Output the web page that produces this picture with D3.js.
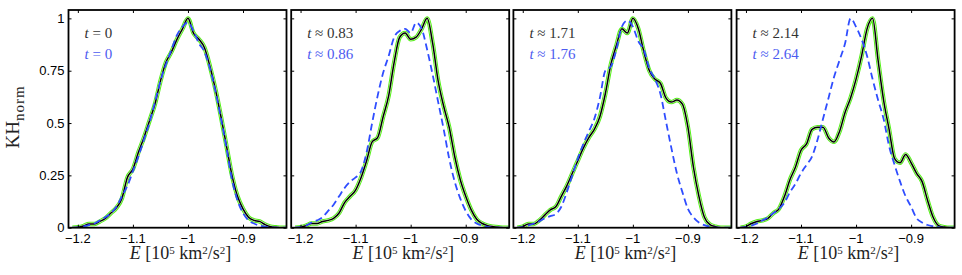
<!DOCTYPE html>
<html>
<head>
<meta charset="utf-8">
<script src="https://cdn.jsdelivr.net/npm/d3@7"></script>
<style>
  body { margin: 0; background: #fff; }
  svg { display: block; }
</style>
</head>
<body>
<div id="chart"></div>
<script>
// energy grid (10^5 km^2/s^2), common to every curve
var energyGrid = [-1.21, -1.20, -1.19, -1.18, -1.17, -1.16, -1.15, -1.14, -1.13, -1.12,
                  -1.11, -1.10, -1.09, -1.08, -1.07, -1.06, -1.05, -1.04, -1.03, -1.02,
                  -1.01, -1.00, -0.99, -0.98, -0.97, -0.96, -0.95, -0.94, -0.93, -0.92,
                  -0.91, -0.90, -0.89, -0.88, -0.87, -0.86, -0.85, -0.84, -0.83, -0.82];

// black solid curves (with green band)
var khSim1 = [0, 0.002, 0.008, 0.018, 0.018, 0.03, 0.045, 0.07, 0.095, 0.14,
              0.24, 0.28, 0.36, 0.43, 0.51, 0.59, 0.70, 0.79, 0.84, 0.90,
              0.95, 1.0, 0.93, 0.90, 0.86, 0.77, 0.66, 0.53, 0.39, 0.25,
              0.15, 0.09, 0.05, 0.035, 0.03, 0.015, 0.005, 0.002, 0, 0];
var khSim2 = [0, 0.002, 0.01, 0.02, 0.02, 0.03, 0.035, 0.045, 0.07, 0.12,
              0.15, 0.18, 0.24, 0.32, 0.41, 0.43, 0.53, 0.63, 0.79, 0.91,
              0.93, 0.90, 0.91, 0.95, 1.0, 0.88, 0.70, 0.58, 0.48, 0.34,
              0.23, 0.15, 0.085, 0.04, 0.02, 0.01, 0.005, 0.002, 0, 0];
var khSim3 = [0, 0.005, 0.018, 0.018, 0.035, 0.06, 0.085, 0.10, 0.15, 0.20,
              0.26, 0.32, 0.38, 0.43, 0.47, 0.53, 0.64, 0.78, 0.87, 0.95,
              0.93, 1.0, 0.95, 0.84, 0.75, 0.71, 0.69, 0.62, 0.60, 0.61,
              0.59, 0.48, 0.29, 0.15, 0.05, 0.015, 0.005, 0, 0, 0];
var khSim4 = [0, 0.005, 0.02, 0.03, 0.035, 0.045, 0.07, 0.09, 0.15, 0.23,
              0.29, 0.37, 0.40, 0.47, 0.48, 0.48, 0.43, 0.41, 0.46, 0.55,
              0.62, 0.71, 0.82, 0.95, 1.0, 0.80, 0.61, 0.47, 0.33, 0.31,
              0.35, 0.31, 0.26, 0.22, 0.13, 0.05, 0.01, 0.003, 0, 0];

// blue dashed curves
var khObs1 = [0, 0.002, 0.006, 0.012, 0.02, 0.035, 0.05, 0.07, 0.10, 0.15,
              0.20, 0.27, 0.34, 0.42, 0.50, 0.60, 0.70, 0.78, 0.85, 0.92,
              0.96, 0.98, 0.94, 0.88, 0.84, 0.76, 0.65, 0.52, 0.38, 0.23,
              0.13, 0.07, 0.035, 0.02, 0.01, 0.005, 0.002, 0, 0, 0];
var khObs2 = [0, 0.003, 0.01, 0.025, 0.035, 0.05, 0.08, 0.11, 0.15, 0.19,
              0.22, 0.24, 0.27, 0.36, 0.50, 0.63, 0.74, 0.82, 0.91, 0.94,
              0.95, 0.93, 0.98, 0.95, 0.85, 0.73, 0.60, 0.47, 0.33, 0.22,
              0.14, 0.08, 0.04, 0.02, 0.01, 0.004, 0, 0, 0, 0];
var khObs3 = [0, 0.003, 0.01, 0.02, 0.03, 0.045, 0.055, 0.065, 0.10, 0.17,
              0.25, 0.33, 0.40, 0.46, 0.52, 0.62, 0.75, 0.77, 0.85, 0.96,
              0.99, 0.96, 0.89, 0.85, 0.76, 0.71, 0.64, 0.51, 0.38, 0.26,
              0.17, 0.09, 0.05, 0.025, 0.012, 0.005, 0, 0, 0, 0];
var khObs4 = [0, 0.003, 0.01, 0.02, 0.035, 0.05, 0.07, 0.09, 0.12, 0.17,
              0.21, 0.26, 0.30, 0.34, 0.42, 0.52, 0.62, 0.72, 0.80, 0.88,
              1.0, 0.96, 0.90, 0.82, 0.71, 0.61, 0.52, 0.39, 0.30, 0.22,
              0.15, 0.10, 0.045, 0.025, 0.013, 0.007, 0.003, 0, 0, 0];

var simTimes = ["= 0", "\u2248 0.83", "\u2248 1.71", "\u2248 2.14"];
var obsTimes = ["= 0", "\u2248 0.86", "\u2248 1.76", "\u2248 2.64"];

var xTicks = [-1.2, -1.1, -1.0, -0.9];
var xTickLabels = ["\u22121.2", "\u22121.1", "\u22121", "\u22120.9"];
var yTicks = [0, 0.25, 0.5, 0.75, 1];
var yTickLabels = ["0", "0.25", "0.5", "0.75", "1"];

var simSeries = [khSim1, khSim2, khSim3, khSim4];
var obsSeries = [khObs1, khObs2, khObs3, khObs4];

//************************************************************
// layout
//************************************************************
var W = 962, H = 275;
var panelLeft = [68.5, 291.2, 513.4, 736.6];
var panelW = 218;
var plotTop = 10, plotBottom = 227.7;
var ph = plotBottom - plotTop;
var serif = "'Liberation Serif', 'DejaVu Serif', serif";
var sans = "'Liberation Sans', Arial, sans-serif";

var svg = d3.select("#chart").append("svg")
    .attr("width", W)
    .attr("height", H);

var xScale = d3.scaleLinear().domain([-1.217, -0.821]).range([0, panelW]);
var yScale = d3.scaleLinear().domain([0, 1.04]).range([ph, 0]);

var line = d3.line()
    .x(function(d) { return xScale(d[0]); })
    .y(function(d) { return yScale(d[1]); })
    .curve(d3.curveMonotoneX);

for (var p = 0; p < 4; p++) {
  var g = svg.append("g").attr("transform", "translate(" + panelLeft[p] + "," + plotTop + ")");

  g.append("clipPath").attr("id", "clip" + p)
    .append("rect").attr("width", panelW).attr("height", ph);

  var sim = energyGrid.map(function(e, i) { return [e, simSeries[p][i]]; });
  var obs = energyGrid.map(function(e, i) { return [e, obsSeries[p][i]]; });

  var curves = g.append("g").attr("clip-path", "url(#clip" + p + ")");

  // green band + pale core + black line
  curves.append("path").attr("d", line(sim))
    .attr("fill", "none").attr("stroke", "#55f01a")
    .attr("stroke-width", 4.4).attr("stroke-linejoin", "round");
  curves.append("path").attr("d", line(sim))
    .attr("fill", "none").attr("stroke", "#f2ece0")
    .attr("stroke-width", 2.4).attr("stroke-linejoin", "round");
  curves.append("path").attr("d", line(sim))
    .attr("fill", "none").attr("stroke", "#000")
    .attr("stroke-width", 1.5).attr("stroke-linejoin", "round");
  curves.append("path").attr("d", line(obs))
    .attr("fill", "none").attr("stroke", "#2f4dff")
    .attr("stroke-width", 1.8).attr("stroke-dasharray", "7,4");

  // ticks on all four sides, inward
  var xAxisB = d3.axisBottom(xScale).tickValues(xTicks).tickSize(-3).tickFormat("");
  var xAxisT = d3.axisTop(xScale).tickValues(xTicks).tickSize(-3).tickFormat("");
  var yAxisL = d3.axisLeft(yScale).tickValues(yTicks).tickSize(-3).tickFormat("");
  var yAxisR = d3.axisRight(yScale).tickValues(yTicks).tickSize(-3).tickFormat("");

  [
    [xAxisB, "translate(0," + ph + ")"],
    [xAxisT, "translate(0,0)"],
    [yAxisL, "translate(0,0)"],
    [yAxisR, "translate(" + panelW + ",0)"]
  ].forEach(function(a) {
    var ax = g.append("g").attr("transform", a[1]).call(a[0]);
    ax.select(".domain").remove();
    ax.selectAll("line").attr("stroke", "#000").attr("stroke-width", 1);
  });

  g.append("rect")
    .attr("width", panelW).attr("height", ph)
    .attr("fill", "none").attr("stroke", "#000").attr("stroke-width", 1.8);

  // tick labels
  g.selectAll(".xlab").data(xTicks).enter().append("text")
    .attr("x", function(d) { return xScale(d); })
    .attr("y", ph + 15.5)
    .attr("text-anchor", "middle")
    .attr("font-family", sans).attr("font-size", 13)
    .text(function(d, i) { return xTickLabels[i]; });

  if (p === 0) {
    g.selectAll(".ylab").data(yTicks).enter().append("text")
      .attr("x", -4)
      .attr("y", function(d) { return yScale(d) + 4.5; })
      .attr("text-anchor", "end")
      .attr("font-family", sans).attr("font-size", 13)
      .text(function(d, i) { return yTickLabels[i]; });
  }

  // time annotations
  var t1 = g.append("text").attr("x", 16).attr("y", 28)
    .attr("font-family", serif).attr("font-size", 15).attr("fill", "#333");
  t1.append("tspan").attr("font-style", "italic").text("t");
  t1.append("tspan").text(" " + simTimes[p]);
  var t2 = g.append("text").attr("x", 16).attr("y", 49)
    .attr("font-family", serif).attr("font-size", 15).attr("fill", "#4d5cf0");
  t2.append("tspan").attr("font-style", "italic").text("t");
  t2.append("tspan").text(" " + obsTimes[p]);

  // x label
  var xl = g.append("text").attr("x", panelW / 2 + 3).attr("y", ph + 31.5)
    .attr("text-anchor", "middle")
    .attr("font-family", serif).attr("font-size", 18).attr("fill", "#222");
  xl.append("tspan").attr("font-style", "italic").text("E");
  xl.append("tspan").text(" [10");
  xl.append("tspan").attr("font-size", 11).attr("dy", -5.5).text("5");
  xl.append("tspan").attr("dy", 5.5).text(" km");
  xl.append("tspan").attr("font-size", 11).attr("dy", -5.5).text("2");
  xl.append("tspan").attr("dy", 5.5).text("/s");
  xl.append("tspan").attr("font-size", 11).attr("dy", -5.5).text("2");
  xl.append("tspan").attr("dy", 5.5).text("]");
}

// y axis label
var yl = svg.append("text")
  .attr("transform", "translate(19,117) rotate(-90)")
  .attr("text-anchor", "middle")
  .attr("font-family", serif).attr("font-size", 19).attr("fill", "#222");
yl.append("tspan").text("KH");
yl.append("tspan").attr("font-size", 15).attr("dy", 5).attr("letter-spacing", 1).text("norm");
</script>
</body>
</html>
